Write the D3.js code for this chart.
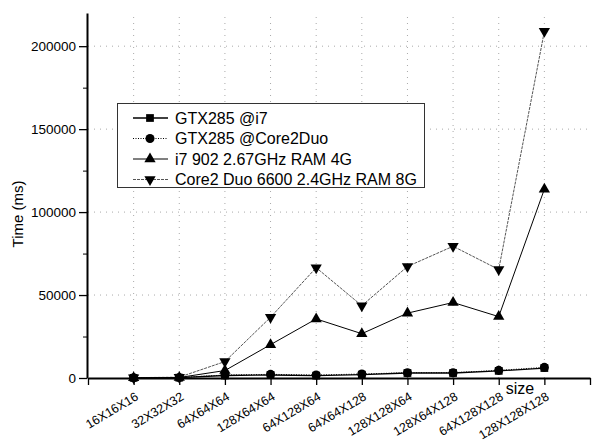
<!DOCTYPE html>
<html>
<head>
  <meta charset="UTF-8">
  <title>Time vs size</title>
  <script src="https://d3js.org/d3.v7.min.js"></script>
  <style>
    body { margin: 0; background: #fff; }
    text { font-family: "Liberation Sans", Arial, sans-serif; fill: #000; }
  </style>
</head>
<body>
  <svg width="592" height="441"></svg>

  <script>
    // data
    const categories = ["16X16X16", "32X32X32", "64X64X64", "128X64X64", "64X128X64",
      "64X64X128", "128X128X64", "128X64X128", "64X128X128", "128X128X128"];
    const gtxI7 = [100, 200, 1500, 1800, 1400, 2000, 3000, 3000, 4300, 6000];
    const gtxCore2 = [150, 250, 1800, 2200, 1800, 2400, 3200, 3200, 4600, 6400];
    const i7cpu = [100, 300, 4500, 20100, 35600, 26700, 39100, 45500, 37000, 113800];
    const core2cpu = [200, 500, 9900, 36600, 66500, 43600, 67200, 79400, 65400, 209000];
    const yTicks = [0, 50000, 100000, 150000, 200000];
    const yMinor = [25000, 75000, 125000, 175000];

    const series = [
      { name: "GTX285 @i7", values: gtxI7, symbol: d3.symbolSquare, size: 60, rot: 0, stroke: "#000", dash: null, width: 1.3 },
      { name: "GTX285 @Core2Duo", values: gtxCore2, symbol: d3.symbolCircle, size: 64, rot: 0, stroke: "#000", dash: "1,1.5", width: 1 },
      { name: "i7 902 2.67GHz RAM 4G", values: i7cpu, symbol: d3.symbolTriangle, size: 55, rot: 0, stroke: "#000", dash: null, width: 1 },
      { name: "Core2 Duo 6600 2.4GHz RAM 8G", values: core2cpu, symbol: d3.symbolTriangle, size: 55, rot: 180, stroke: "#555", dash: "3,1", width: 1 }
    ];

    const svg = d3.select("svg");

    const x = d3.scaleLinear().domain([0, 11]).range([88, 590]);
    const y = d3.scaleLinear().domain([0, 220000]).range([378, 13]);

    // grid
    const grid = svg.append("g")
      .attr("stroke", "#aaa")
      .attr("stroke-width", 1)
      .attr("stroke-dasharray", "1,5");
    grid.selectAll("line.gx")
      .data(d3.range(1, 11))
      .join("line")
      .attr("x1", d => x(d)).attr("x2", d => x(d))
      .attr("y1", y(0)).attr("y2", y(220000));
    grid.selectAll("line.gy")
      .data(yTicks.slice(1))
      .join("line")
      .attr("x1", x(0)).attr("x2", x(11))
      .attr("y1", d => y(d)).attr("y2", d => y(d));

    // axes
    const yAxis = svg.append("g")
      .attr("transform", "translate(87,0)")
      .call(d3.axisLeft(y).tickValues(yTicks).tickSize(8).tickSizeOuter(0).tickPadding(3).tickFormat(d3.format("d")));
    yAxis.select(".domain").attr("stroke-width", 2);
    yAxis.selectAll(".tick line").attr("stroke-width", 1.3);
    yAxis.selectAll("text").attr("font-size", 13.5).style("font-family", "'Liberation Sans', Arial, sans-serif");

    svg.append("g")
      .attr("transform", "translate(87,0)")
      .call(d3.axisLeft(y).tickValues(yMinor).tickSize(4).tickSizeOuter(0).tickFormat(""))
      .select(".domain").remove();

    const xAxis = svg.append("g")
      .attr("transform", "translate(0,378)")
      .call(d3.axisBottom(x).tickValues(d3.range(0, 12)).tickSize(7).tickSizeOuter(0)
        .tickFormat(i => (i >= 1 && i <= 10) ? categories[i - 1] : ""));
    xAxis.select(".domain").attr("stroke-width", 2);
    xAxis.selectAll(".tick line").attr("stroke-width", 1.3);
    xAxis.selectAll("text")
      .attr("font-size", 12.5)
      .style("font-family", "'Liberation Sans', Arial, sans-serif")
      .attr("text-anchor", "end")
      .attr("x", 0).attr("y", 0).attr("dy", 0)
      .attr("transform", "translate(5,21) rotate(-31)");

    svg.append("text")
      .attr("transform", "translate(23,214) rotate(-90)")
      .attr("text-anchor", "middle")
      .attr("font-size", 15)
      .text("Time (ms)");

    svg.append("text")
      .attr("x", 520).attr("y", 394)
      .attr("text-anchor", "middle")
      .attr("font-size", 16)
      .text("size");

    // lines and markers
    const line = d3.line().x((d, i) => x(i + 1)).y(d => y(d));
    const drawOrder = [3, 2, 1, 0];
    drawOrder.forEach(k => {
      const s = series[k];
      svg.append("path")
        .attr("d", line(s.values))
        .attr("fill", "none")
        .attr("stroke", s.stroke)
        .attr("stroke-width", s.width)
        .attr("stroke-dasharray", s.dash);
      svg.append("g")
        .selectAll("path")
        .data(s.values)
        .join("path")
        .attr("d", d3.symbol().type(s.symbol).size(s.size))
        .attr("fill", "#000")
        .attr("transform", (d, i) => `translate(${x(i + 1)},${y(d)}) rotate(${s.rot})`);
    });

    // legend
    const legend = svg.append("g");
    legend.append("rect")
      .attr("x", 117.5).attr("y", 103.5)
      .attr("width", 307).attr("height", 84)
      .attr("fill", "#fff")
      .attr("stroke", "#333")
      .attr("stroke-width", 1);
    const rows = legend.selectAll("g")
      .data(series)
      .join("g")
      .attr("transform", (d, i) => `translate(0,${118 + i * 20.5})`);
    rows.append("line")
      .attr("x1", 133).attr("x2", 168)
      .attr("stroke", d => d.stroke)
      .attr("stroke-width", d => d.width)
      .attr("stroke-dasharray", d => d.dash);
    rows.append("path")
      .attr("d", d => d3.symbol().type(d.symbol).size(d.size)())
      .attr("fill", "#000")
      .attr("transform", d => `translate(150,0) rotate(${d.rot})`);
    rows.append("text")
      .attr("x", 175).attr("dy", "0.36em")
      .attr("font-size", 16)
      .text(d => d.name);
  </script>
</body>
</html>
